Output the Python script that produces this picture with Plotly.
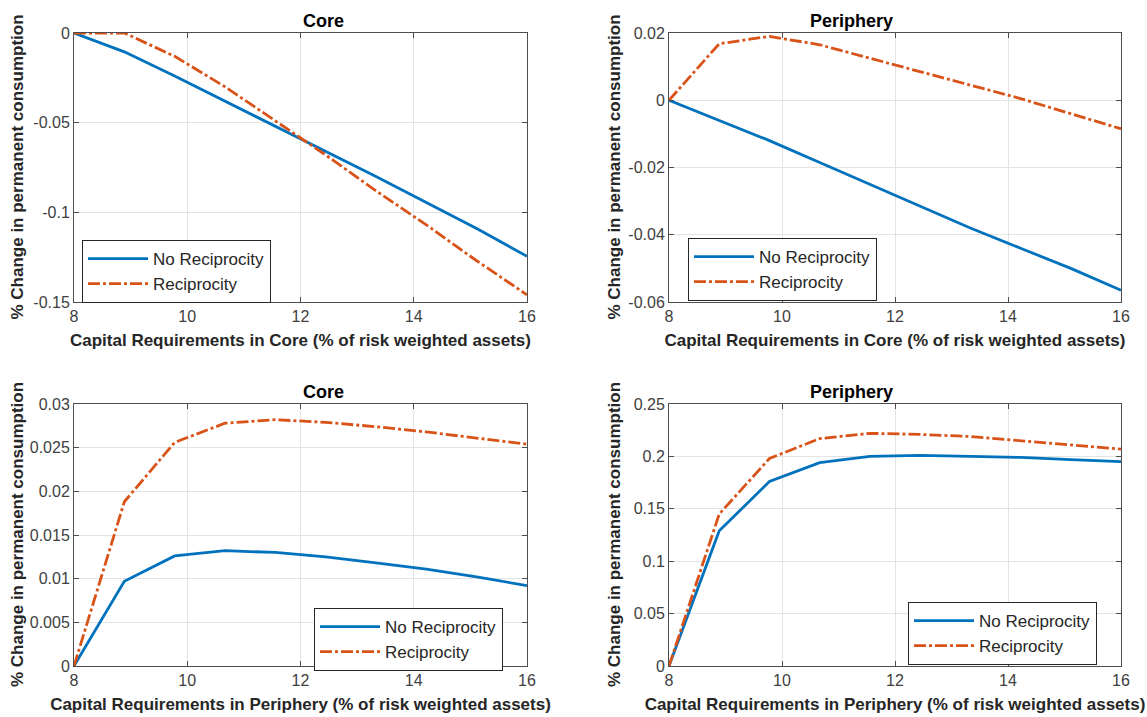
import plotly.graph_objects as go

x_req = [8, 8.889, 9.778, 10.667, 11.556, 12.444, 13.333, 14.222, 15.111, 16]

# Panel 1: Core, capital requirements in Core
core_core_norecip = [0, -0.0105, -0.024, -0.038, -0.052, -0.066, -0.080, -0.0945, -0.109, -0.1245]
core_core_recip = [0, 0, -0.013, -0.030, -0.049, -0.068, -0.088, -0.107, -0.127, -0.146]
# Panel 2: Periphery, capital requirements in Core
peri_core_norecip = [0, -0.006, -0.012, -0.0185, -0.025, -0.0315, -0.038, -0.044, -0.050, -0.0565]
peri_core_recip = [0, 0.0168, 0.019, 0.0165, 0.0125, 0.0085, 0.0045, 0.0005, -0.004, -0.0085]
# Panel 3: Core, capital requirements in Periphery
core_peri_norecip = [0, 0.0097, 0.0126, 0.0132, 0.0130, 0.0125, 0.0118, 0.0111, 0.0102, 0.0092]
core_peri_recip = [0, 0.0188, 0.0256, 0.0278, 0.0282, 0.0279, 0.0274, 0.0268, 0.0261, 0.0254]
# Panel 4: Periphery, capital requirements in Periphery
peri_peri_norecip = [0, 0.129, 0.176, 0.194, 0.200, 0.201, 0.200, 0.199, 0.197, 0.195]
peri_peri_recip = [0, 0.145, 0.198, 0.217, 0.222, 0.221, 0.219, 0.215, 0.211, 0.207]

x_ticks = [8, 10, 12, 14, 16]
y_ticks_1 = [-0.15, -0.1, -0.05, 0]
y_text_1 = ["-0.15", "-0.1", "-0.05", "0"]
y_ticks_2 = [-0.06, -0.04, -0.02, 0, 0.02]
y_text_2 = ["-0.06", "-0.04", "-0.02", "0", "0.02"]
y_ticks_3 = [0, 0.005, 0.01, 0.015, 0.02, 0.025, 0.03]
y_text_3 = ["0", "0.005", "0.01", "0.015", "0.02", "0.025", "0.03"]
y_ticks_4 = [0, 0.05, 0.1, 0.15, 0.2, 0.25]
y_text_4 = ["0", "0.05", "0.1", "0.15", "0.2", "0.25"]

titles = ["Core", "Periphery", "Core", "Periphery"]
x_labels = ["Capital Requirements in Core (% of risk weighted assets)",
            "Capital Requirements in Core (% of risk weighted assets)",
            "Capital Requirements in Periphery (% of risk weighted assets)",
            "Capital Requirements in Periphery (% of risk weighted assets)"]
y_label = "% Change in permanent consumption"
series_names = ["No Reciprocity", "Reciprocity"]

BLUE = "#0072BD"
ORANGE = "#D95319"
FONT = "Liberation Sans, Arial, Helvetica, sans-serif"

panels = [
    (core_core_norecip, core_core_recip, y_ticks_1, y_text_1, [-0.15, 0]),
    (peri_core_norecip, peri_core_recip, y_ticks_2, y_text_2, [-0.06, 0.02]),
    (core_peri_norecip, core_peri_recip, y_ticks_3, y_text_3, [0, 0.03]),
    (peri_peri_norecip, peri_peri_recip, y_ticks_4, y_text_4, [0, 0.25]),
]

W, H = 1147, 717
xdoms = [[74 / W, 527 / W], [669 / W, 1121 / W]]
ydoms = [[1 - 302 / H, 1 - 33 / H], [1 - 666 / H, 1 - 404 / H]]

# legend boxes (left, top) in pixels
legend_pos = [(82, 240), (688, 238), (314, 608), (908, 602)]
# y-title centre x in pixels
ytitle_x = [17, 614]

fig = go.Figure()
layout = {}
annotations = []
for i, (nr, r, yt, ytt, yr) in enumerate(panels):
    n = i + 1
    sfx = "" if n == 1 else str(n)
    leg = "legend" if n == 1 else f"legend{n}"
    fig.add_trace(go.Scatter(x=x_req, y=nr, mode="lines", name=series_names[0],
                             line=dict(color=BLUE, width=2.8),
                             xaxis=f"x{sfx}", yaxis=f"y{sfx}", legend=leg))
    fig.add_trace(go.Scatter(x=x_req, y=r, mode="lines", name=series_names[1],
                             line=dict(color=ORANGE, width=2.8, dash="12px,3px,3px,3px"),
                             xaxis=f"x{sfx}", yaxis=f"y{sfx}", legend=leg))
    col = i % 2
    row = i // 2
    common = dict(showline=True, linecolor="#4d4d4d", linewidth=1, mirror="allticks",
                  ticks="inside", ticklen=5, tickcolor="#4d4d4d", automargin=False,
                  showgrid=True, gridcolor="#e3e3e3", gridwidth=1, zeroline=False,
                  tickfont=dict(family=FONT, size=16, color="#404040"))
    layout[f"xaxis{sfx}"] = dict(domain=xdoms[col], anchor=f"y{sfx}", range=[8, 16],
                                 tickvals=x_ticks, ticktext=[str(v) for v in x_ticks],
                                 title=dict(text=x_labels[i], standoff=9,
                                            font=dict(family=FONT, size=17, color="#262626",
                                                      weight="bold")),
                                 **common)
    layout[f"yaxis{sfx}"] = dict(domain=ydoms[row], anchor=f"x{sfx}", range=yr,
                                 tickvals=yt, ticktext=ytt, **common)
    annotations.append(dict(text=f"<b>{y_label}</b>", x=ytitle_x[col] / W, xref="paper",
                            xanchor="center", y=sum(ydoms[row]) / 2, yref="paper",
                            yanchor="middle", textangle=-90, showarrow=False,
                            font=dict(family=FONT, size=17, color="#262626")))
    lx, ly = legend_pos[i]
    layout[leg] = dict(x=lx / W, y=1 - ly / H, xanchor="left", yanchor="top",
                       bgcolor="white", bordercolor="#262626", borderwidth=1,
                       font=dict(family=FONT, size=17, color="#262626"),
                       tracegroupgap=0, itemwidth=60)
    annotations.append(dict(text=f"<b>{titles[i]}</b>", x=sum(xdoms[col]) / 2, xref="paper",
                            y=ydoms[row][1], yref="paper", yanchor="bottom", yshift=0,
                            showarrow=False, font=dict(family=FONT, size=18, color="black")))

fig.update_layout(**layout)
fig.update_layout(width=W, height=H, margin=dict(l=0, r=0, t=0, b=0, autoexpand=False),
                  paper_bgcolor="white", plot_bgcolor="white", showlegend=True,
                  annotations=annotations)
fig.write_html("out.html")
